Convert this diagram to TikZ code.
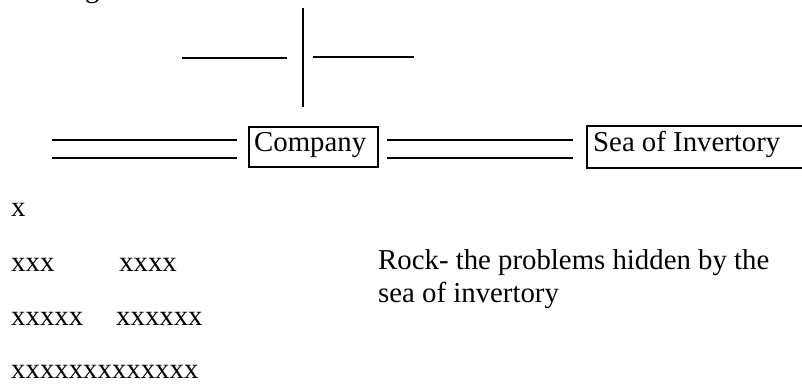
\documentclass[tikz,border=0pt]{standalone}
\usepackage{fontspec}
\setmainfont{Liberation Serif}
\begin{document}
\begin{tikzpicture}[x=1pt,y=-1pt,
  txt/.style={inner sep=0pt,anchor=base west,font=\fontsize{28.8}{33}\selectfont},
  boxtxt/.style={draw,line width=2pt,inner xsep=4pt,inner ysep=0pt,font=\fontsize{28.8}{33}\selectfont},
  bar/.style={line width=2.6pt}]
\useasboundingbox (0,0) rectangle (802,385);
% cut-off glyph at the top
\node[txt] (g) at (85,-2) {g};
% top cross
\draw[bar] (303,8) -- (303,107);
\draw[bar] (182,58) -- (287,58);
\draw[bar] (313,57) -- (414,57);
% boxes
\draw[line width=2pt] (249,127) rectangle (378,167);
\node[txt] (company) at (254,151) {Company};
\draw[line width=2pt] (810,126) -- (587,126) -- (587,168) -- (810,168);
\node[txt] (sea) at (593,151) {Sea of Invertory};
% double lines
\draw[bar] (52,140) -- (237,140);
\draw[bar] (52,158) -- (237,158);
\draw[bar] (387,140) -- (573,140);
\draw[bar] (387,158) -- (573,158);
% rock pile
\node[txt] (r1) at (11,216) {x};
\node[txt] (r2a) at (11,271) {xxx};
\node[txt] (r2b) at (119,271) {xxxx};
\node[txt] (r3a) at (11,325) {xxxxx};
\node[txt] (r3b) at (116,325) {xxxxxx};
\node[txt] (r4) at (11,378) {xxxxxxxxxxxxx};
% caption
\node[txt] (rock1) at (378,269) {Rock- the problems hidden by the};
\node[txt] (rock2) at (378,302) {sea of invertory};
\end{tikzpicture}
\end{document}
